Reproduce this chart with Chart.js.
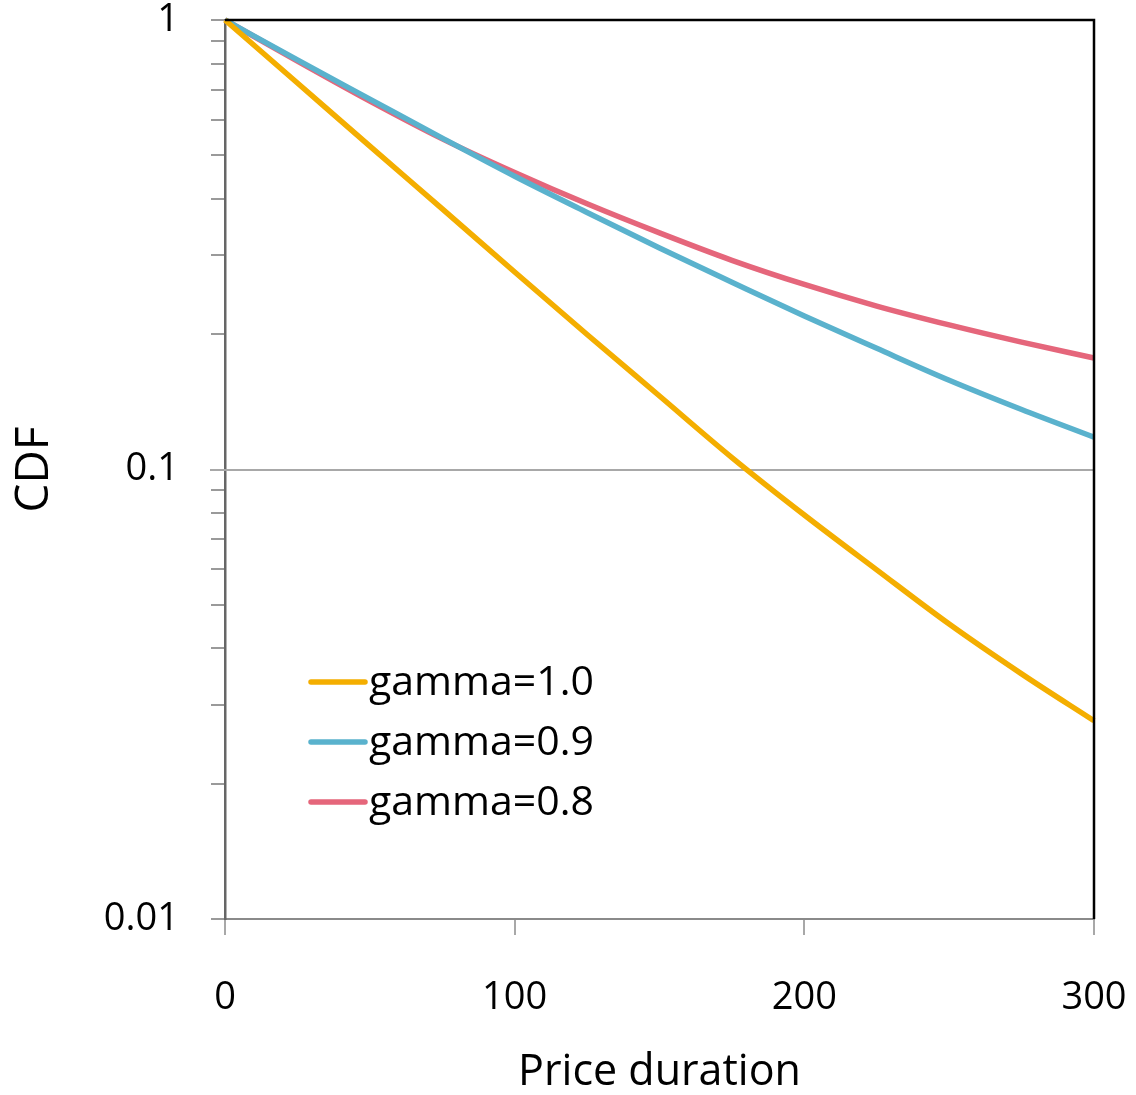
<!DOCTYPE html>
<html>
<head>
<meta charset="utf-8">
<script src="https://cdn.jsdelivr.net/npm/chart.js@4/dist/chart.umd.min.js"></script>
<style>
  html, body { margin: 0; padding: 0; background: #ffffff; }
  #wrap { width: 1136px; height: 1095px; }
</style>
</head>
<body>
<div id="wrap"><canvas id="c" width="1136" height="1095"></canvas></div>
<script>
// ---- data ----
const durations = [0, 25, 50, 75, 100, 125, 150, 175, 200, 225, 250, 275, 300];
const gamma10 = [1, 0.724, 0.524, 0.380, 0.275, 0.1997, 0.1457, 0.1063, 0.0792, 0.0598, 0.0453, 0.0351, 0.0276];
const gamma09 = [1, 0.815, 0.667, 0.546, 0.449, 0.373, 0.311, 0.261, 0.2195, 0.186, 0.158, 0.136, 0.118];
const gamma08 = [1, 0.810, 0.660, 0.544, 0.458, 0.390, 0.336, 0.292, 0.258, 0.231, 0.2097, 0.192, 0.177];
const seriesLabels = ['gamma=1.0', 'gamma=0.9', 'gamma=0.8'];
const xTickValues = [0, 100, 200, 300];
const yMajorTicks = [0.01, 0.1, 1];
const yMinorTicks = [0.02, 0.03, 0.04, 0.05, 0.06, 0.07, 0.08, 0.09, 0.2, 0.3, 0.4, 0.5, 0.6, 0.7, 0.8, 0.9];
const yGridValues = [0.1];
const xTitle = 'Price duration';
const yTitle = 'CDF';

const colors = ['#F4AE00', '#5AB2CD', '#E5667B'];
const FONT = "'Open Sans', 'DejaVu Sans', sans-serif";

function toPoints(ys) { return durations.map((x, i) => ({ x: x, y: ys[i] })); }

const allSeries = [gamma10, gamma09, gamma08];
const datasets = allSeries.map((s, i) => ({
  label: seriesLabels[i],
  data: toPoints(s),
  borderColor: colors[i],
  backgroundColor: colors[i],
  borderWidth: 5.5,
  pointRadius: 0,
  fill: false,
  cubicInterpolationMode: 'monotone',
  clip: 4
}));

const decorPlugin = {
  id: 'decor',
  beforeDatasetsDraw(chart) {
    const ctx = chart.ctx, ca = chart.chartArea, ys = chart.scales.y;
    ctx.save();
    ctx.strokeStyle = '#a8a8a8';
    ctx.lineWidth = 2;
    yGridValues.forEach(v => {
      const py = Math.round(ys.getPixelForValue(v));
      ctx.beginPath();
      ctx.moveTo(ca.left - 15, py);
      ctx.lineTo(ca.right, py);
      ctx.stroke();
    });
    ctx.restore();
  },
  afterDatasetsDraw(chart) {
    const ctx = chart.ctx, ca = chart.chartArea;
    ctx.save();
    ctx.strokeStyle = '#000000';
    ctx.lineWidth = 2.5;
    ctx.beginPath();
    ctx.moveTo(ca.left, ca.top);
    ctx.lineTo(ca.right, ca.top);
    ctx.lineTo(ca.right, ca.bottom);
    ctx.stroke();
    const ds = chart.data.datasets;
    ctx.font = '41px ' + FONT;
    ctx.textBaseline = 'middle';
    ctx.textAlign = 'left';
    ds.forEach((d, i) => {
      const y = ca.top + 662 + i * 60;
      ctx.strokeStyle = d.borderColor;
      ctx.lineWidth = 5.5;
      ctx.lineCap = 'round';
      ctx.beginPath();
      ctx.moveTo(ca.left + 86, y);
      ctx.lineTo(ca.left + 140, y);
      ctx.stroke();
      ctx.fillStyle = '#000000';
      ctx.fillText(d.label, ca.left + 144, y + 1);
    });
    ctx.restore();
  }
};

new Chart(document.getElementById('c'), {
  type: 'line',
  data: { datasets: datasets },
  options: {
    responsive: false,
    animation: false,
    devicePixelRatio: 1,
    layout: { padding: { top: 20, right: 42, bottom: 0, left: 0 } },
    plugins: { legend: { display: false }, tooltip: { enabled: false } },
    scales: {
      x: {
        type: 'linear',
        min: 0, max: 300,
        afterBuildTicks: s => { s.ticks = xTickValues.map(v => ({ value: v })); },
        afterFit: s => { s.height = 176; s.paddingLeft = 0; s.paddingRight = 0; },
        ticks: {
          font: { family: FONT, size: 38 },
          color: '#000000',
          padding: 40,
          maxRotation: 0,
          autoSkip: false
        },
        grid: { drawOnChartArea: false, drawTicks: true, tickLength: 16, color: '#a8a8a8', lineWidth: 2 },
        border: { display: true, color: '#8a8a8a', width: 2 },
        title: {
          display: true, text: xTitle, color: '#000000',
          font: { family: FONT, size: 43, lineHeight: 1 },
          padding: { top: 0, bottom: 1 }
        }
      },
      y: {
        type: 'logarithmic',
        min: 0.01, max: 1,
        afterBuildTicks: s => {
          const all = yMajorTicks.concat(yMinorTicks).sort((a, b) => a - b);
          s.ticks = all.map(v => ({ value: v, major: yMajorTicks.includes(v) }));
        },
        afterFit: s => { s.width = 225; s.paddingTop = 0; s.paddingBottom = 0; },
        ticks: {
          font: { family: FONT, size: 38 },
          color: '#000000',
          padding: 32,
          autoSkip: false,
          callback: v => (yMajorTicks.includes(v) ? String(v) : '')
        },
        grid: { drawOnChartArea: false, drawTicks: true, tickLength: 14, color: '#9a9a9a', lineWidth: 2 },
        border: { display: true, color: '#666666', width: 2.5 },
        title: {
          display: true, text: yTitle, color: '#000000',
          font: { family: FONT, size: 46, lineHeight: 1 },
          padding: { top: 12, bottom: 0 }
        }
      }
    }
  },
  plugins: [decorPlugin]
});
</script>
</body>
</html>
